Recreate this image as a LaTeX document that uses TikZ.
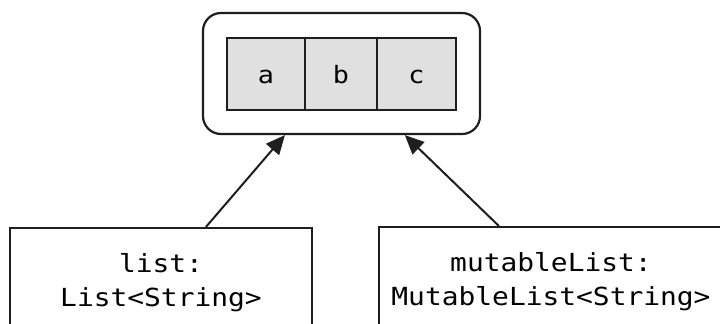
\documentclass[tikz,border=0pt]{standalone}
\usepackage{fontspec}
\newfontfamily\codefont[FakeStretch=1.12]{DejaVu Sans Mono}
\usetikzlibrary{arrows.meta,calc}
\definecolor{cellgray}{RGB}{224,224,224}
\definecolor{inkgray}{RGB}{30,30,30}
\tikzset{
  outerbox/.style={draw=inkgray, line width=2.2bp, rounded corners=18bp, minimum width=277bp, minimum height=121bp, inner sep=0pt},
  cell/.style={draw=inkgray, line width=1.7bp, fill=cellgray, minimum height=72bp, inner sep=0pt, text height=20bp, text depth=2bp, font=\codefont\fontsize{24}{30}\selectfont},
  varbox/.style={draw=inkgray, line width=2.2bp, fill=white, anchor=north, minimum height=109bp, align=center, inner sep=0pt, font=\codefont\fontsize{25}{34}\selectfont},
  ref/.style={draw=inkgray, line width=2bp, -{Triangle[length=19bp,width=17bp]}}
}
\begin{document}
\begin{tikzpicture}[x=1bp,y=-1bp]
\useasboundingbox (0,0) rectangle (720,323);
\node[outerbox] (outer) at (341.5,73.5) {};
\node[cell, minimum width=78bp] (a) at (266,74) {a};
\node[cell, minimum width=72bp] (b) at (341,74) {b};
\node[cell, minimum width=79bp] (c) at (416.5,74) {c};
\node[varbox, minimum width=302bp] (list) at (161,227) {list:\\List<String>};
\node[varbox, minimum width=344bp] (mlist) at (551,226) {mutableList:\\MutableList<String>};
\draw[ref] ($(list.north west)+(197,0)$) -- ($(outer.south west)+(83,0)$);
\draw[ref] ($(mlist.north west)+(121,0)$) -- ($(outer.south west)+(203,0)$);
\end{tikzpicture}
\end{document}
